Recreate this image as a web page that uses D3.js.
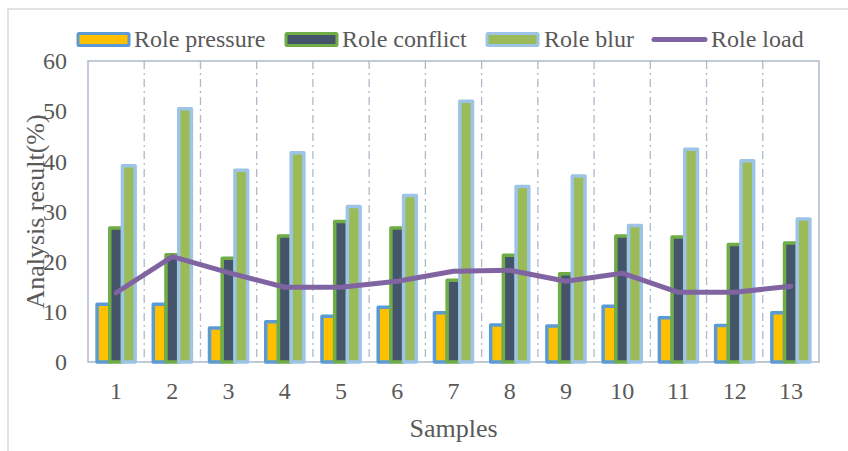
<!DOCTYPE html>
<html>
<head>
<meta charset="utf-8">
<script src="https://cdn.jsdelivr.net/npm/d3@7"></script>
<style>
  html, body { margin: 0; padding: 0; background: #fff; }
  svg { display: block; }
  text { font-family: "Liberation Serif", "Times New Roman", serif; fill: #595959; }
</style>
</head>
<body>
<svg id="chart" width="848" height="451"></svg>
<script>
// Sample identifiers along the x axis
const samples = ["1","2","3","4","5","6","7","8","9","10","11","12","13"];

// Analysis results (%) per sample
const rolePressure = [11.5, 11.5, 6.8, 8.0, 9.1, 10.9, 9.8, 7.4, 7.2, 11.1, 8.8, 7.3, 9.8];
const roleConflict = [26.7, 21.4, 20.7, 25.1, 28.0, 26.7, 16.3, 21.3, 17.6, 25.1, 24.9, 23.4, 23.7];
const roleBlur     = [39.1, 50.5, 38.2, 41.7, 31.0, 33.2, 52.0, 35.0, 37.1, 27.2, 42.4, 40.1, 28.5];
const roleLoad     = [13.8, 21.0, 17.8, 14.9, 14.9, 16.1, 18.1, 18.3, 16.1, 17.7, 13.9, 13.9, 15.1];

// Y axis ticks
const yTicks = [0, 10, 20, 30, 40, 50, 60];

const barSeries = [
  { name: "Role pressure", values: rolePressure, fill: "#FFC000", stroke: "#5B9BD5" },
  { name: "Role conflict", values: roleConflict, fill: "#44546A", stroke: "#70AD47" },
  { name: "Role blur",     values: roleBlur,     fill: "#9BBB59", stroke: "#9DC3E6" }
];
const lineSeries = { name: "Role load", values: roleLoad, color: "#8064A2" };

const svg = d3.select("#chart");
const W = 848, H = 451;
const plot = { left: 88, top: 61, right: 819, bottom: 362 };
const axisColor = "#ADB9CA";

// Outer chart frame
svg.append("rect")
  .attr("x", 8).attr("y", 9)
  .attr("width", W + 20).attr("height", H + 20)
  .attr("fill", "#fff").attr("stroke", "#D9D9D9").attr("stroke-width", 1.5);

const x0 = d3.scaleBand().domain(samples).range([plot.left, plot.right]).padding(0);
const barW = 12.7;
const groupW = barW * barSeries.length;
const gap = (x0.bandwidth() - groupW) / 2;
const x1 = d3.scaleBand().domain(barSeries.map(s => s.name))
  .range([gap, x0.bandwidth() - gap]).padding(0);
const y = d3.scaleLinear().domain([0, 60]).range([plot.bottom, plot.top]);

// Vertical dash-dot separators between samples
const g = svg.append("g");
g.selectAll("line.sep")
  .data(samples.slice(1))
  .join("line")
  .attr("class", "sep")
  .attr("x1", d => x0(d)).attr("x2", d => x0(d))
  .attr("y1", plot.top).attr("y2", plot.bottom)
  .attr("stroke", axisColor).attr("stroke-width", 1.3)
  .attr("stroke-dasharray", "8,4,2,4");

// Plot border
g.append("rect")
  .attr("x", plot.left).attr("y", plot.top)
  .attr("width", plot.right - plot.left).attr("height", plot.bottom - plot.top)
  .attr("fill", "none").attr("stroke", axisColor).attr("stroke-width", 1.5);

// Bars
barSeries.forEach(s => {
  svg.append("g").selectAll("rect")
    .data(samples.map((c, i) => ({ c, v: s.values[i] })))
    .join("rect")
    .attr("x", d => x0(d.c) + x1(s.name))
    .attr("y", d => y(d.v))
    .attr("width", x1.bandwidth())
    .attr("height", d => y(0) - y(d.v))
    .attr("fill", s.fill)
    .attr("stroke", s.stroke)
    .attr("stroke-width", 3.5)
    .attr("stroke-linejoin", "round");
});

// Line series
const line = d3.line()
  .x((d, i) => x0(samples[i]) + x0.bandwidth() / 2)
  .y(d => y(d));
svg.append("path")
  .datum(lineSeries.values)
  .attr("d", line)
  .attr("fill", "none")
  .attr("stroke", lineSeries.color)
  .attr("stroke-width", 5)
  .attr("stroke-linejoin", "round")
  .attr("stroke-linecap", "round");

// Y axis labels
const yAxis = d3.axisLeft(y).tickValues(yTicks).tickSize(0).tickPadding(21);
const ya = svg.append("g").attr("transform", `translate(${plot.left},0)`).call(yAxis);
ya.select(".domain").remove();
ya.selectAll("text").attr("font-size", 24).attr("fill", "#595959")
  .attr("font-family", "Liberation Serif, Times New Roman, serif");

// X axis labels
const xAxis = d3.axisBottom(x0).tickSize(0).tickPadding(20);
const xa = svg.append("g").attr("transform", `translate(0,${plot.bottom})`).call(xAxis);
xa.select(".domain").remove();
xa.selectAll("text").attr("font-size", 24).attr("fill", "#595959")
  .attr("font-family", "Liberation Serif, Times New Roman, serif");

// Axis titles
svg.append("text")
  .attr("x", (plot.left + plot.right) / 2).attr("y", 437)
  .attr("text-anchor", "middle").attr("font-size", 26)
  .text("Samples");
svg.append("text")
  .attr("transform", `translate(44,${(plot.top + plot.bottom) / 2}) rotate(-90)`)
  .attr("text-anchor", "middle").attr("font-size", 26)
  .text("Analysis result(%)");

// Legend
const legendItems = [
  { x: 78, textX: 134, s: barSeries[0] },
  { x: 286, textX: 342, s: barSeries[1] },
  { x: 487, textX: 544, s: barSeries[2] }
];
const leg = svg.append("g");
legendItems.forEach(it => {
  leg.append("rect")
    .attr("x", it.x).attr("y", 33.5)
    .attr("width", 51).attr("height", 12)
    .attr("fill", it.s.fill).attr("stroke", it.s.stroke).attr("stroke-width", 3)
    .attr("rx", 1);
  leg.append("text").attr("x", it.textX).attr("y", 47)
    .attr("font-size", 24).text(it.s.name);
});
leg.append("line")
  .attr("x1", 654).attr("x2", 705).attr("y1", 39.5).attr("y2", 39.5)
  .attr("stroke", lineSeries.color).attr("stroke-width", 5).attr("stroke-linecap", "round");
leg.append("text").attr("x", 711).attr("y", 47).attr("font-size", 24).text(lineSeries.name);
</script>
</body>
</html>
